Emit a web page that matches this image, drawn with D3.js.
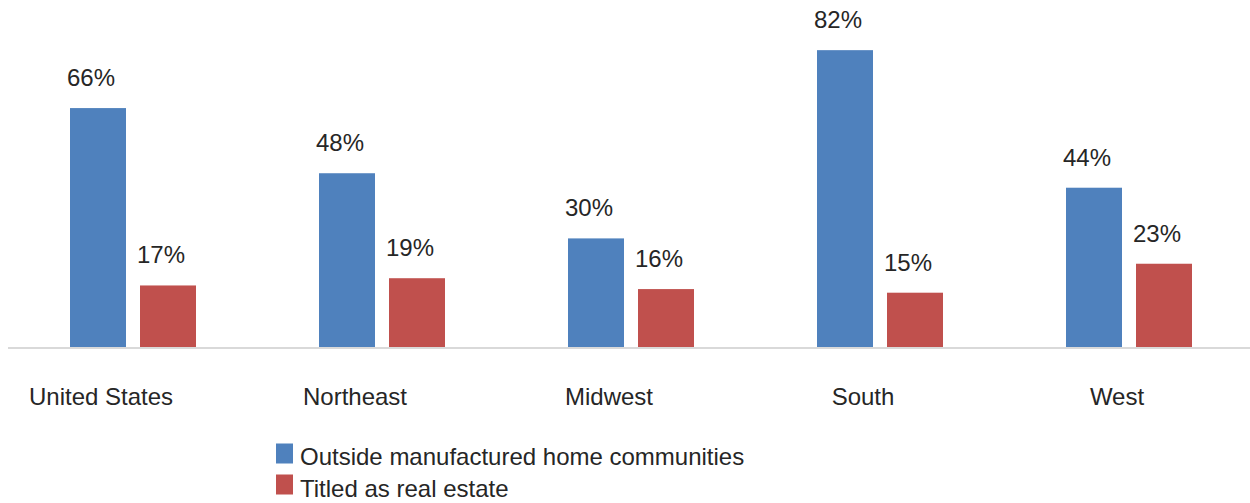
<!DOCTYPE html>
<html><head><meta charset="utf-8">
<script src="https://cdn.jsdelivr.net/npm/d3@7"></script>
<style>body{margin:0;background:#fff}svg{display:block;font-family:"Liberation Sans",Arial,sans-serif}</style>
</head><body>
<svg id="c" width="1250" height="503"></svg>
<script>
const categories = ["United States","Northeast","Midwest","South","West"];
const seriesNames = ["Outside manufactured home communities","Titled as real estate"];
const outsideValues = [66,48,30,82,44];
const titledValues = [17,19,16,15,23];
const colors = ["#4f81bd","#c0504d"];

const svg = d3.select("#c");
const baseY = 347;
const FS = 24;
const x = d3.scaleBand().domain(categories).range([8.5, 1253.5]).paddingInner(0).paddingOuter(0);
const xl = d3.scaleBand().domain(categories).range([-26, 1244]);
const y = d3.scaleLinear().domain([0, 90]).range([baseY, baseY - 325.8]);
const sub = d3.scaleBand().domain([0,1]).range([-63, 63]).paddingInner(0.2).paddingOuter(0);

const series = [outsideValues, titledValues];
series.forEach((vals, si) => {
  const g = svg.append("g");
  g.selectAll("rect").data(vals).join("rect")
    .attr("x", (d,i) => x(categories[i]) + x.bandwidth()/2 + sub(si))
    .attr("width", sub.bandwidth())
    .attr("y", d => y(d))
    .attr("height", d => baseY - y(d))
    .attr("fill", colors[si]);
  g.selectAll("text").data(vals).join("text")
    .attr("x", (d,i) => x(categories[i]) + x.bandwidth()/2 + sub(si) + sub.bandwidth()/2 - 7)
    .attr("y", d => y(d) - 22)
    .attr("text-anchor", "middle")
    .attr("font-size", FS)
    .attr("fill", "#262626")
    .text(d => d + "%");
});

const xAxis = d3.axisBottom(xl).tickSize(0).tickPadding(0);
const ax = svg.append("g").attr("transform", `translate(0,${baseY})`).call(xAxis);
ax.select(".domain").remove();
ax.selectAll("text").attr("font-size", FS).attr("fill", "#262626").attr("dy", null).attr("y", 58)
  .attr("font-family", '"Liberation Sans",Arial,sans-serif');
svg.append("line").attr("x1", 8).attr("x2", 1250).attr("y1", baseY + 1).attr("y2", baseY + 1)
  .attr("stroke", "#d9d9d9").attr("stroke-width", 2);

const leg = svg.append("g");
seriesNames.forEach((n, i) => {
  leg.append("rect").attr("x", 276).attr("y", 443.5 + i*31).attr("width", 17).attr("height", 20).attr("fill", colors[i]);
  leg.append("text").attr("x", 300).attr("y", 464.5 + i*32).attr("font-size", FS).attr("fill", "#262626").text(n);
});
</script>
</body></html>
